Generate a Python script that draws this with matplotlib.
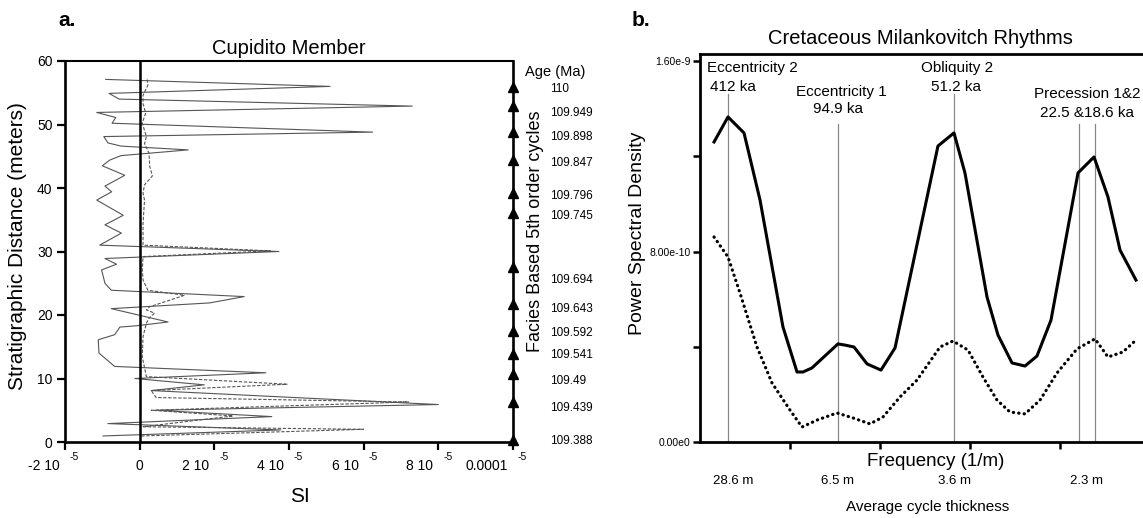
import matplotlib
matplotlib.use('Agg')
import matplotlib.pyplot as plt
import matplotlib.transforms as mtransforms

plt.rcParams['font.family'] = ['Liberation Sans', 'DejaVu Sans']

# ---- panel a data (SI in units of 1e-5, depth in m) ----
depth_solid = [57.1, 56.0, 54.9, 54.0, 52.9, 51.9, 51.1, 50.2, 48.8, 48.1, 47.1, 46.6, 46.0,
               45.1, 44.4, 43.5, 42.0, 40.3, 39.4, 38.1, 35.7, 34.2, 32.9, 31.0, 30.0, 28.9,
               28.0, 27.1, 25.0, 23.9, 22.9, 21.9, 21.0, 18.9, 18.3, 18.1, 16.9, 16.1, 14.0,
               11.9, 10.9, 10.0, 9.0, 8.1, 5.9, 5.0, 4.0, 2.9, 1.9, 0.95]
si_solid = [-0.91, 5.1, -0.82, -0.55, 7.3, -1.15, -0.64, -0.74, 6.24, -0.96, -0.85, -0.5, 1.3,
            -0.5, -0.8, -1.0, -0.4, -0.93, -0.75, -1.15, -0.44, -0.93, -0.49, -1.07, 3.73, -0.93,
            -0.62, -1.02, -0.93, -0.76, 2.8, 1.87, -0.76, 0.76, -0.09, -0.53, -0.67, -1.11, -1.09,
            -0.67, 3.38, -0.13, 1.73, 0.31, 8.0, 0.44, 3.54, -0.85, 3.78, -0.98]

depth_dash = [57.1, 56.2, 54.6, 53.3, 51.8, 50.2, 48.1, 47.0, 45.5, 43.4, 41.9, 40.5, 39.2,
              38.1, 34.4, 32.3, 31.0, 30.1, 29.2, 27.1, 25.5, 23.9, 23.1, 21.3, 20.8, 20.3,
              19.5, 18.7, 16.6, 13.4, 10.3, 9.1, 8.1, 7.0, 6.3, 5.0, 4.1, 2.4, 2.0, 0.95]
si_dash = [0.2, 0.22, 0.09, 0.09, 0.16, 0.07, 0.18, 0.13, 0.25, 0.27, 0.34, 0.13, 0.09,
           0.13, 0.09, 0.09, 0.09, 3.5, 0.09, 0.07, 0.09, 0.22, 1.2, 0.27, 0.18, 0.4,
           0.25, 0.18, 0.09, 0.07, 0.18, 3.95, 0.31, 0.44, 7.2, 0.31, 2.5, 0.09, 6.0, 0.04]

cycle_depths = [55.9, 52.9, 48.8, 44.4, 39.2, 36.1, 27.6, 21.7, 17.5, 13.9, 10.7, 6.3, 0.3]
age_labels = ['110', '109.949', '109.898', '109.847', '109.796', '109.745', '109.694',
              '109.643', '109.592', '109.541', '109.49', '109.439', '109.388']
age_label_depths = [55.6, 51.8, 48.0, 43.9, 38.7, 35.6, 25.5, 20.9, 17.2, 13.7, 9.6, 5.4, 0.2]

si_ticks = [-2, 0, 2, 4, 6, 8, 10]
si_ticklabels = ['-2 10', '0', '2 10', '4 10', '6 10', '8 10', '0.0001']

# ---- panel b data (PSD in units of 1e-9) ----
freq_solid = [0.0156, 0.0311, 0.0489, 0.0667, 0.0922, 0.1078, 0.1144, 0.1244, 0.1533, 0.1611,
              0.1711, 0.1856, 0.2011, 0.2167, 0.2644, 0.2822, 0.2944, 0.3189, 0.3311, 0.3467,
              0.3611, 0.3744, 0.39, 0.42, 0.4378, 0.4533, 0.4667, 0.4844]
psd_solid = [1.260, 1.365, 1.298, 1.016, 0.483, 0.294, 0.294, 0.311, 0.412, 0.407,
             0.399, 0.328, 0.302, 0.395, 1.243, 1.298, 1.130, 0.609, 0.449, 0.332,
             0.319, 0.361, 0.512, 1.130, 1.197, 1.029, 0.806, 0.680]
freq_dot = [0.0156, 0.0311, 0.0444, 0.0633, 0.08, 0.1, 0.1133, 0.13, 0.1522, 0.17, 0.1889,
            0.2033, 0.2222, 0.2411, 0.2667, 0.2811, 0.2978, 0.3144, 0.33, 0.3444, 0.3611,
            0.3778, 0.3967, 0.4189, 0.4389, 0.4533, 0.47, 0.4844]
psd_dot = [0.861, 0.777, 0.626, 0.399, 0.248, 0.134, 0.063, 0.092, 0.122, 0.101, 0.076,
           0.105, 0.189, 0.260, 0.399, 0.424, 0.386, 0.273, 0.176, 0.126, 0.118,
           0.176, 0.290, 0.391, 0.433, 0.357, 0.378, 0.428]

peak_freqs = [0.031, 0.153, 0.282, 0.421, 0.439]
peak_tops = [1.46, 1.335, 1.46, 1.335, 1.335]
peak_names = [('Eccentricity 2', 0.058, 1.57), ('412 ka', 0.037, 1.49),
              ('Eccentricity 1', 0.157, 1.47), ('94.9 ka', 0.153, 1.40),
              ('Obliquity 2', 0.286, 1.57), ('51.2 ka', 0.284, 1.49),
              ('Precession 1&2', 0.430, 1.46), ('22.5 &18.6 ka', 0.430, 1.38)]
thick_labels = ['28.6 m', '6.5 m', '3.6 m', '2.3 m']
thick_freqs = [0.037, 0.153, 0.283, 0.429]

W, H = 1143, 518
fig = plt.figure(figsize=(W / 100, H / 100), dpi=100)

# ================= panel a =================
ax = fig.add_axes([65 / W, 1 - 442 / H, 448 / W, 381 / H])
ax.plot(si_solid, depth_solid, color='#555555', lw=0.8)
ax.plot(si_dash, depth_dash, color='#555555', lw=0.8, dashes=(3, 1.5))
ax.axvline(0, color='black', lw=1.8)
ax.set_xlim(-2, 10)
ax.set_ylim(0, 60)
for s in ['left', 'bottom', 'right']:
    ax.spines[s].set_linewidth(1.9)
ax.spines['top'].set_linewidth(1.5)
ax.set_yticks([0, 10, 20, 30, 40, 50, 60])
ax.tick_params(axis='y', length=6, width=1.6, labelsize=10, pad=3)
ax.set_xticks(si_ticks)
ax.set_xticklabels([''] * len(si_ticks))
ax.tick_params(axis='x', length=6, width=1.6)
trans = mtransforms.blended_transform_factory(ax.transData, ax.transAxes)
for t, lab in zip(si_ticks, si_ticklabels):
    if lab == '0':
        ax.annotate(lab, (t, 0), xycoords=trans, xytext=(0, -17), textcoords='offset points',
                    ha='center', va='center', fontsize=10)
    else:
        ax.annotate(lab, (t, 0), xycoords=trans, xytext=(-3.5, -17), textcoords='offset points',
                    ha='right', va='center', fontsize=10)
        ax.annotate('-5', (t, 0), xycoords=trans, xytext=(3.5, -11), textcoords='offset points',
                    ha='left', va='center', fontsize=7.5)
ax.plot([10] * len(cycle_depths), cycle_depths, '^', color='black', ms=7, clip_on=False)
trans_r = mtransforms.blended_transform_factory(ax.transAxes, ax.transData)
for d, lab in zip(age_label_depths, age_labels):
    ax.text(1.083, d, lab, transform=trans_r, ha='left', va='center', fontsize=8.5)
ax.text(1.027, 58.3, 'Age (Ma)', transform=trans_r, ha='left', va='center', fontsize=10.5)
ax.text(1.050, 0.552, 'Facies Based 5th order cycles', transform=ax.transAxes,
        rotation=90, ha='center', va='center', fontsize=13)
ax.text(-0.107, 0.514, 'Stratigraphic Distance (meters)', transform=ax.transAxes,
        rotation=90, ha='center', va='center', fontsize=15)
ax.text(0.525, -0.143, 'SI', transform=ax.transAxes, ha='center', va='center', fontsize=15)
ax.set_title('Cupidito Member', fontsize=14.5, pad=5)
fig.text(58 / W, 1 - 20 / H, 'a.', fontsize=15, fontweight='bold', va='center')

# ================= panel b =================
bx = fig.add_axes([700 / W, 1 - 442 / H, 443 / W, 388 / H])
for f, top in zip(peak_freqs, peak_tops):
    bx.plot([f, f], [0, top], color='#888888', lw=0.9)
bx.plot(freq_solid, psd_solid, color='black', lw=2.2)
bx.plot(freq_dot, psd_dot, color='black', lw=2.3, linestyle=(0, (0.1, 1.6)),
        dash_capstyle='round')
bx.set_xlim(0, 443 / 900)
bx.set_ylim(0, 1.6294)
bx.spines['right'].set_visible(False)
for s in ['left', 'bottom', 'top']:
    bx.spines[s].set_linewidth(2.0)
bx.set_yticks([0, 0.8, 1.6])
bx.set_yticklabels(['0.00e0', '8.00e-10', '1.60e-9'])
bx.set_yticks([0.4, 1.2], minor=True)
bx.tick_params(axis='y', which='both', length=5, width=1.8, labelsize=7.5, pad=2)
bx.set_xticks([0.1, 0.2, 0.3, 0.4])
bx.set_xticklabels([])
bx.tick_params(axis='x', length=5, width=1.8)
for name, f, y in peak_names:
    bx.text(f, y, name, ha='center', va='center', fontsize=11)
transb = mtransforms.blended_transform_factory(bx.transData, bx.transAxes)
for f, lab in zip(thick_freqs, thick_labels):
    bx.text(f, -0.10, lab, transform=transb, ha='center', va='center', fontsize=9.5)
bx.text(0.533, -0.05, 'Frequency (1/m)', transform=bx.transAxes, ha='center', va='center',
        fontsize=13.5)
bx.text(0.513, -0.167, 'Average cycle thickness', transform=bx.transAxes, ha='center',
        va='center', fontsize=11)
bx.text(-0.142, 0.539, 'Power Spectral Density', transform=bx.transAxes, rotation=90,
        ha='center', va='center', fontsize=14)
fig.text(920 / W, 1 - 38 / H, 'Cretaceous Milankovitch Rhythms', ha='center', va='center',
         fontsize=14.5)
fig.text(632 / W, 1 - 20 / H, 'b.', fontsize=15, fontweight='bold', va='center')

fig.savefig('out.png', dpi=100)
